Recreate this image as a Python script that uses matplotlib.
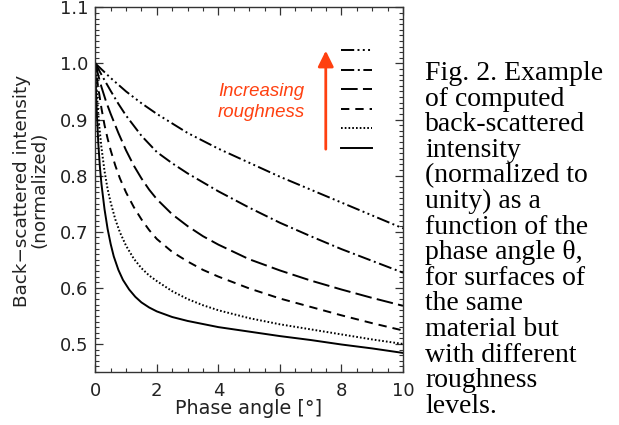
import numpy as np
import matplotlib
matplotlib.use("Agg")
import matplotlib.pyplot as plt
from matplotlib.ticker import MultipleLocator

plt.rcParams['lines.scale_dashes'] = False

# curves (smooth -> rough)
x_solid = [0, 0.02, 0.05, 0.1, 0.15, 0.2, 0.3, 0.4, 0.5, 0.6, 0.75, 0.9, 1.1, 1.3, 1.5,
           1.75, 2, 2.5, 3, 4, 5, 6, 7, 8, 9, 10]
y_solid = [1.0, 0.955, 0.91, 0.855, 0.815, 0.785, 0.74, 0.705, 0.678, 0.656, 0.632, 0.614,
           0.597, 0.584, 0.574, 0.565, 0.558, 0.548, 0.541, 0.530, 0.522, 0.514, 0.507,
           0.499, 0.492, 0.484]

x_dot = [0, 0.03, 0.07, 0.12, 0.2, 0.3, 0.4, 0.5, 0.65, 0.8, 1, 1.25, 1.5, 1.75, 2, 2.5,
         3, 3.5, 4, 5, 6, 7, 8, 9, 10]
y_dot = [1.0, 0.965, 0.93, 0.893, 0.85, 0.808, 0.776, 0.752, 0.722, 0.699, 0.675, 0.652,
         0.635, 0.622, 0.612, 0.594, 0.580, 0.569, 0.560, 0.546, 0.535, 0.526, 0.517,
         0.508, 0.500]

x_dash = [0, 0.05, 0.1, 0.2, 0.3, 0.4, 0.5, 0.65, 0.8, 1, 1.25, 1.5, 1.75, 2, 2.5, 3, 3.5,
          4, 5, 6, 7, 8, 9, 10]
y_dash = [1.0, 0.975, 0.955, 0.92, 0.89, 0.866, 0.845, 0.818, 0.795, 0.77, 0.744, 0.722,
          0.703, 0.687, 0.664, 0.647, 0.632, 0.62, 0.599, 0.581, 0.566, 0.551, 0.537, 0.524]

x_long = [0, 0.1, 0.2, 0.35, 0.5, 0.75, 1, 1.25, 1.5, 1.75, 2, 2.5, 3, 3.5, 4, 5, 6, 7, 8,
          9, 10]
y_long = [1.0, 0.978, 0.958, 0.932, 0.91, 0.876, 0.845, 0.818, 0.795, 0.775, 0.758, 0.731,
          0.71, 0.692, 0.677, 0.651, 0.631, 0.613, 0.597, 0.582, 0.568]

x_dashdot = [0, 0.25, 0.5, 0.75, 1, 1.5, 2, 2.5, 3, 4, 5, 6, 7, 8, 9, 10]
y_dashdot = [1.0, 0.975, 0.951, 0.928, 0.907, 0.871, 0.842, 0.822, 0.804, 0.772, 0.743,
             0.716, 0.692, 0.669, 0.648, 0.627]

x_dash3dot = [0, 0.5, 1, 1.5, 2, 3, 4, 5, 6, 7, 8, 9, 10]
y_dash3dot = [1.0, 0.974, 0.950, 0.929, 0.91, 0.876, 0.848, 0.823, 0.798, 0.775, 0.752,
              0.729, 0.706]

x_ticks = [0, 2, 4, 6, 8, 10]
y_ticks = [0.5, 0.6, 0.7, 0.8, 0.9, 1.0, 1.1]

caption = ["Fig. 2. Example", "of computed", "back-scattered", "intensity",
           "(normalized to", "unity) as a", "function of the", "phase angle \u03b8,",
           "for surfaces of", "the same", "material but", "with different",
           "roughness", "levels."]

# line styles (points), IDL-like
styles = {
    'solid': '-',
    'dot': (0, (1.2, 1.5)),
    'dash': (0, (6, 4.3)),
    'long': (0, (12, 3.8)),
    'dashdot': (0, (9.5, 2.6, 1.4, 2.6)),
    'dash3dot': (0, (9.5, 2.4, 1.4, 2.4, 1.4, 2.4, 1.4, 2.4)),
}

curves = [
    (x_dash3dot, y_dash3dot, 'dash3dot'),
    (x_dashdot, y_dashdot, 'dashdot'),
    (x_long, y_long, 'long'),
    (x_dash, y_dash, 'dash'),
    (x_dot, y_dot, 'dot'),
    (x_solid, y_solid, 'solid'),
]

W, H = 619, 425
fig = plt.figure(figsize=(W / 100, H / 100), dpi=100)
ax = fig.add_axes([95.3 / W, 1 - 372 / H, 307.7 / W, 364.7 / H])

for xs, ys, st in curves:
    ax.plot(xs, ys, color='black', lw=1.4, linestyle=styles[st])

ax.set_xlim(0, 10)
ax.set_ylim(0.45, 1.1)
ax.set_xticks(x_ticks)
ax.set_yticks(y_ticks)
ax.set_yticklabels(["%.1f" % v for v in y_ticks])
ax.xaxis.set_minor_locator(MultipleLocator(0.5))
ax.yaxis.set_minor_locator(MultipleLocator(0.01))
ax.tick_params(which='both', direction='in', top=True, right=True, colors='#333333',
               labelcolor='#222222', labelsize=13)
ax.tick_params(which='major', length=6, width=0.9)
ax.tick_params(which='minor', length=3, width=0.8)
ax.tick_params(axis='x', pad=7)
ax.tick_params(axis='y', pad=5)
for sp in ax.spines.values():
    sp.set_linewidth(1.0)
    sp.set_color('#333333')

# legend samples
for i, (xs, ys, st) in enumerate(curves):
    yy = 0.883 - i * 0.0538
    ax.plot([0.80, 0.90], [yy, yy], transform=ax.transAxes, color='black', lw=1.4,
            linestyle=styles[st])

# arrow + label
red = '#ff4010'
ax.annotate('', xy=(0.749, 0.881), xytext=(0.749, 0.611), xycoords='axes fraction',
            arrowprops=dict(arrowstyle='-|>,head_length=0.95,head_width=0.47',
                            color=red, lw=2, shrinkA=0, shrinkB=0, mutation_scale=10))
ax.text(0.539, 0.757, "Increasing", transform=ax.transAxes, ha='center', va='baseline',
        color=red, style='italic', fontsize=13.4, family='Liberation Sans')
ax.text(0.539, 0.699, "roughness", transform=ax.transAxes, ha='center', va='baseline',
        color=red, style='italic', fontsize=13.4, family='Liberation Sans')

# axis labels
fig.text(248.5 / W, 1 - 409 / H, "Phase angle [\u00b0]", ha='center', va='center',
         fontsize=13.8, color='#222222')
fig.text(22 / W, 1 - 191 / H, "Back\u2212scattered intensity", rotation=90,
         ha='center', va='center', fontsize=13.2, color='#222222')
fig.text(39 / W, 1 - 190 / H, "(normalized)", rotation=90,
         ha='center', va='center', fontsize=13.2, color='#222222')

# caption
for i, line in enumerate(caption):
    fig.text(425 / W, 1 - (80 + 25.6 * i) / H, line, ha='left', va='baseline',
             fontsize=20, family='Liberation Serif', color='black')

fig.savefig("out.png", dpi=100)
